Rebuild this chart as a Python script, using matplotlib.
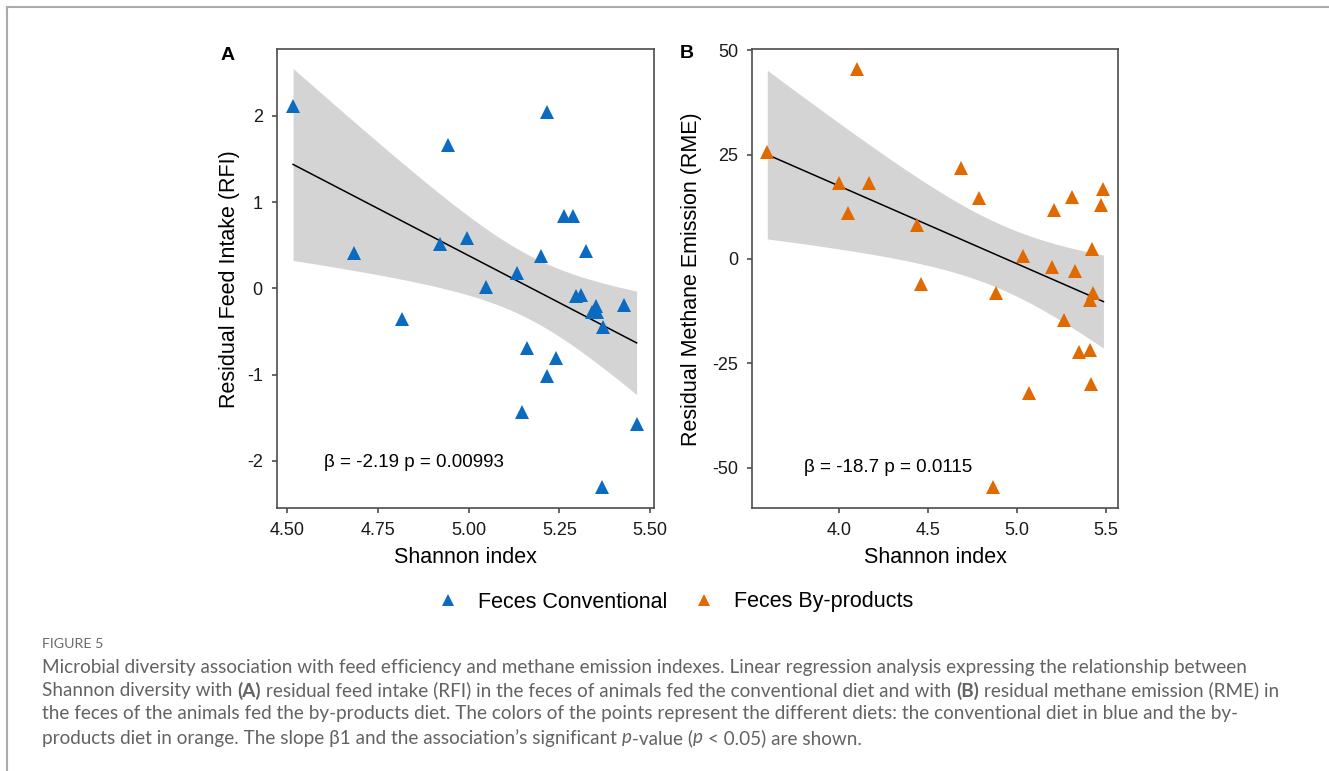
import numpy as np
import matplotlib
matplotlib.use('Agg')
import matplotlib.pyplot as plt
from matplotlib.lines import Line2D

plt.rcParams['font.family'] = ['Liberation Sans', 'DejaVu Sans']
plt.rcParams['axes.unicode_minus'] = False

# data
shannon_conv = [4.516, 4.942, 5.217, 4.684, 4.921, 4.996, 5.048, 5.132, 5.199, 5.263,
                5.287, 5.323, 5.295, 5.310, 5.350, 5.340, 5.355, 5.370, 5.429, 4.817,
                5.160, 5.241, 5.215, 5.146, 5.463, 5.367]
rfi_conv = [2.11, 1.66, 2.05, 0.41, 0.52, 0.58, 0.02, 0.18, 0.38, 0.84,
            0.84, 0.43, -0.09, -0.08, -0.20, -0.27, -0.28, -0.445, -0.19, -0.356,
            -0.69, -0.81, -1.02, -1.44, -1.57, -2.30]

shannon_byp = [3.595, 4.098, 4.000, 4.169, 4.051, 4.439, 4.461, 4.686, 4.784, 4.881,
               5.035, 5.196, 5.207, 5.309, 5.326, 5.421, 5.485, 5.472, 5.425, 5.410,
               5.266, 5.350, 5.410, 5.414, 5.069, 4.866]
rme_byp = [25.7, 45.6, 18.3, 18.3, 10.9, 8.1, -6.1, 21.7, 14.5, -8.2,
           0.7, -1.8, 11.7, 14.9, -2.9, 2.3, 16.7, 12.9, -8.2, -9.7,
           -14.6, -22.3, -21.8, -30.0, -32.0, -54.5]

stats_a = 'β = -2.19 p = 0.00993'
stats_b = 'β = -18.7 p = 0.0115'

blue = '#0A6BC1'
orange = '#E06A00'
spine_col = '#4D4D4D'


def lm_band(x, y, t_crit=2.064):
    # linear fit with 95% confidence band, like geom_smooth(method = "lm")
    x = np.asarray(x)
    y = np.asarray(y)
    n = len(x)
    b1, b0 = np.polyfit(x, y, 1)
    resid = y - (b0 + b1 * x)
    s = np.sqrt(np.sum(resid ** 2) / (n - 2))
    xs = np.linspace(x.min(), x.max(), 100)
    fit = b0 + b1 * xs
    se = s * np.sqrt(1 / n + (xs - x.mean()) ** 2 / np.sum((x - x.mean()) ** 2))
    return xs, fit, fit - t_crit * se, fit + t_crit * se


def style_axes(ax):
    for sp in ax.spines.values():
        sp.set_color(spine_col)
        sp.set_linewidth(1.2)
    ax.tick_params(direction='out', length=3.6, width=1.2, color=spine_col,
                   labelsize=13, labelcolor='#1A1A1A', pad=6.5)


fig = plt.figure(figsize=(13.29, 7.71), dpi=100)

# panel A
ax1 = fig.add_axes([0.2082, 0.3411, 0.2839, 0.5949])
xs, fit, lo, hi = lm_band(shannon_conv, rfi_conv)
ax1.fill_between(xs, lo, hi, color='#D4D4D4', lw=0, zorder=1)
ax1.plot(xs, fit, color='black', lw=1.1, zorder=2)
ax1.plot(shannon_conv, rfi_conv, '^', color=blue, ms=10, mew=0, zorder=3,
         label='Feces Conventional')
ax1.set_xlim(4.4708, 5.511)
ax1.set_ylim(-2.549, 2.773)
ax1.set_xticks([4.5, 4.75, 5.0, 5.25, 5.5])
ax1.set_xticklabels(['4.50', '4.75', '5.00', '5.25', '5.50'])
ax1.set_yticks([-2, -1, 0, 1, 2])
ax1.text(4.60, -2.02, stats_a, fontsize=13.5, va='center', ha='left')
ax1.set_xlabel('Shannon index', fontsize=15.5)
ax1.set_ylabel('Residual Feed Intake (RFI)', fontsize=15.5)
ax1.xaxis.set_label_coords(0.5, -0.085)
ax1.yaxis.set_label_coords(-0.097, 0.5)
style_axes(ax1)

# panel B
ax2 = fig.add_axes([0.5661, 0.3407, 0.2754, 0.5953])
xs, fit, lo, hi = lm_band(shannon_byp, rme_byp)
ax2.fill_between(xs, lo, hi, color='#D4D4D4', lw=0, zorder=1)
ax2.plot(xs, fit, color='black', lw=1.1, zorder=2)
ax2.plot(shannon_byp, rme_byp, '^', color=orange, ms=10, mew=0, zorder=3,
         label='Feces By-products')
ax2.set_xlim(3.511, 5.569)
ax2.set_ylim(-59.7, 50.2)
ax2.set_xticks([4.0, 4.5, 5.0, 5.5])
ax2.set_xticklabels(['4.0', '4.5', '5.0', '5.5'])
ax2.set_yticks([-50, -25, 0, 25, 50])
ax2.text(3.80, -50, stats_b, fontsize=13.5, va='center', ha='left')
ax2.set_xlabel('Shannon index', fontsize=15.5)
ax2.set_ylabel('Residual Methane Emission (RME)', fontsize=15.5)
ax2.xaxis.set_label_coords(0.5, -0.085)
ax2.yaxis.set_label_coords(-0.137, 0.5)
style_axes(ax2)

fig.text(228 / 1329, 1 - 55 / 771, 'A', fontsize=14, fontweight='bold',
         ha='center', va='center')
fig.text(687 / 1329, 1 - 54 / 771, 'B', fontsize=14, fontweight='bold',
         ha='center', va='center')

# legend
h1, l1 = ax1.get_legend_handles_labels()
h2, l2 = ax2.get_legend_handles_labels()
fig.legend(h1 + h2, l1 + l2, loc='center', bbox_to_anchor=(675 / 1329, 1 - 602 / 771),
           ncol=2, frameon=False, fontsize=15.5, handlelength=1.0,
           handletextpad=0.9, columnspacing=1.2, markerscale=0.85)

# frame lines of the page
fig.add_artist(Line2D([7 / 1329, 1], [1 - 7 / 771, 1 - 7 / 771], transform=fig.transFigure,
                      color='#ABABAB', lw=1.5))
fig.add_artist(Line2D([7 / 1329, 7 / 1329], [0, 1 - 7 / 771], transform=fig.transFigure,
                      color='#ABABAB', lw=1.5))

# caption with mixed styles
cap_font = ['Lato', 'DejaVu Sans']
cap_col = '#636363'
cap_size = 13.6
cap_x = 42
renderer = fig.canvas.get_renderer()


def text_width(s, **kw):
    t1 = fig.text(0, 0, '|' + s + '|', **kw)
    t2 = fig.text(0, 0, '||', **kw)
    w = t1.get_window_extent(renderer).width - t2.get_window_extent(renderer).width
    t1.remove()
    t2.remove()
    return w


def rich_line(x_px, y_px, pieces):
    x = x_px
    for s, weight, style in pieces:
        kw = dict(family=cap_font, fontsize=cap_size, color=cap_col,
                  fontweight=weight, fontstyle=style)
        fig.text(x / 1329, 1 - y_px / 771, s, va='center', ha='left', **kw)
        x += text_width(s, **kw)


fig.text(cap_x / 1329, 1 - 644 / 771, 'FIGURE 5', family=cap_font, fontsize=10.3,
         color='#6A6A6A', va='center', ha='left')
N, B, I = 'normal', 'bold', 'italic'
rich_line(cap_x, 667, [('Microbial diversity association with feed efficiency and methane emission '
                        'indexes. Linear regression analysis expressing the relationship between', N, N)])
rich_line(cap_x, 690.5, [('Shannon diversity with ', N, N), ('(A)', B, N),
                         (' residual feed intake (RFI) in the feces of animals fed the conventional '
                          'diet and with ', N, N), ('(B)', B, N),
                         (' residual methane emission (RME) in', N, N)])
rich_line(cap_x, 714, [('the feces of the animals fed the by-products diet. The colors of the points '
                        'represent the different diets: the conventional diet in blue and the by-', N, N)])
rich_line(cap_x, 738, [('products diet in orange. The slope β1 and the association’s significant ', N, N),
                       ('p', N, I), ('-value (', N, N), ('p', N, I), (' < 0.05) are shown.', N, N)])

fig.savefig('out.png', dpi=100)
